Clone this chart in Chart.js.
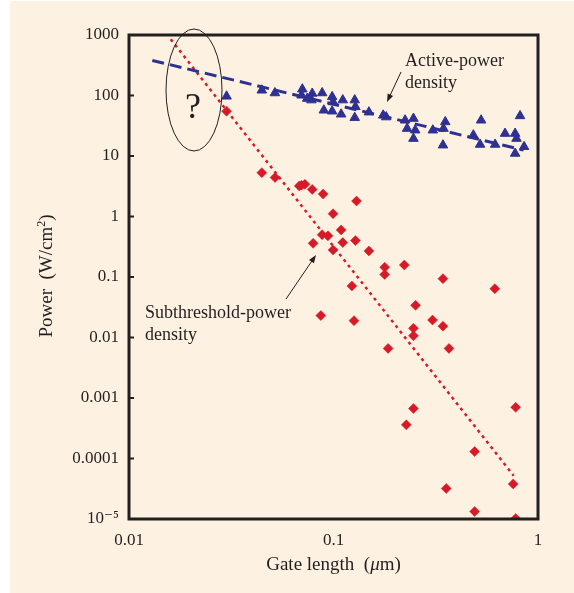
<!DOCTYPE html>
<html>
<head>
<meta charset="utf-8">
<script src="https://cdn.jsdelivr.net/npm/chart.js@4.4.1/dist/chart.umd.min.js"></script>
<style>
  html, body { margin:0; padding:0; background:#ffffff; }
  canvas { display:block; }
</style>
</head>
<body>
<canvas id="powerChart" width="574" height="593"></canvas>
<script>
// gate length (um) vs power density (W/cm^2)
const activeLength = [0.030, 0.0446, 0.0517, 0.0704, 0.0698, 0.0787, 0.078, 0.088, 0.0744, 0.0985,
  0.0995, 0.0897, 0.0985, 0.109, 0.111, 0.127, 0.128, 0.127, 0.149, 0.181,
  0.175, 0.224, 0.229, 0.246, 0.251, 0.246, 0.306, 0.352, 0.345, 0.343,
  0.527, 0.483, 0.521, 0.617, 0.69, 0.773, 0.785, 0.817, 0.773, 0.855];
const activePower = [97, 122, 110, 127, 101, 108, 84, 110, 89, 95,
  78, 57, 55, 49, 84, 84, 65, 43, 53, 44,
  47, 39, 28.4, 41.6, 26.7, 19.4, 26.7, 36.6, 28.4, 15.1,
  39, 22.1, 15.5, 15.5, 23.5, 23.5, 19.4, 46, 11, 14.2];

const subLength = [0.030, 0.0446, 0.0518, 0.0698, 0.0725, 0.0787, 0.068, 0.089, 0.1296, 0.0995,
  0.109, 0.088, 0.094, 0.0795, 0.111, 0.128, 0.0995, 0.149, 0.178, 0.178,
  0.222, 0.343, 0.615, 0.123, 0.252, 0.0867, 0.126, 0.305, 0.343, 0.246,
  0.246, 0.185, 0.367, 0.246, 0.778, 0.227, 0.49, 0.356, 0.756, 0.49, 0.778];
const subPower = [55, 5.3, 4.4, 3.3, 3.4, 2.8, 3.2, 2.35, 1.8, 1.11,
  0.6, 0.5, 0.48, 0.36, 0.37, 0.4, 0.28, 0.27, 0.145, 0.11,
  0.158, 0.094, 0.064, 0.071, 0.034, 0.023, 0.019, 0.0194, 0.0154, 0.0142,
  0.0107, 0.0066, 0.0066, 0.00067, 0.0007, 0.00036, 0.00013, 3.2e-5, 3.8e-5, 1.33e-5, 1.02e-5];

// trend lines (end points)
const activeFitLength = [0.013, 0.85];
const activeFitPower = [380, 12.5];
const subFitLength = [0.016, 0.76];
const subFitPower = [850, 5.2e-5];

const xTicks = [0.01, 0.1, 1];
const xTickLabels = ['0.01', '0.1', '1'];
const yTicks = [1e-5, 1e-4, 1e-3, 0.01, 0.1, 1, 10, 100, 1000];
const yTickLabels = ['10\u207B\u2075', '0.0001', '0.001', '0.01', '0.1', '1', '10', '100', '1000'];

const BLUE = '#2e3192';
const RED = '#d71a28';
const INK = '#231f20';
const SERIF = '"Liberation Serif", "DejaVu Serif", serif';

function pts(xs, ys){ return xs.map((x, i) => ({x: x, y: ys[i]})); }

// page background + beige panel
const panelBg = {
  id: 'panelBg',
  beforeDraw(chart){
    const c = chart.ctx;
    c.save();
    c.fillStyle = '#ffffff';
    c.fillRect(0, 0, chart.width, chart.height);
    c.fillStyle = '#fdf2e2';
    c.fillRect(10, 1, chart.width - 10, chart.height - 1);
    c.restore();
  }
};

function arrow(c, x1, y1, x2, y2){
  const a = Math.atan2(y2 - y1, x2 - x1), L = 8, W = 3;
  c.beginPath(); c.moveTo(x1, y1);
  c.lineTo(x2 - Math.cos(a) * L * 0.7, y2 - Math.sin(a) * L * 0.7); c.stroke();
  c.beginPath();
  c.moveTo(x2, y2);
  c.lineTo(x2 - Math.cos(a) * L - Math.sin(a) * W, y2 - Math.sin(a) * L + Math.cos(a) * W);
  c.lineTo(x2 - Math.cos(a) * L + Math.sin(a) * W, y2 - Math.sin(a) * L - Math.cos(a) * W);
  c.closePath(); c.fill();
}

// frame, inward ticks, axis titles and callouts
const decorations = {
  id: 'decorations',
  afterDraw(chart){
    const c = chart.ctx, a = chart.chartArea, ys = chart.scales.y;
    c.save();
    c.strokeStyle = INK; c.fillStyle = INK;

    c.lineWidth = 2;
    yTicks.forEach(v => {
      const py = ys.getPixelForValue(v);
      c.beginPath(); c.moveTo(a.left, py); c.lineTo(a.left + 5, py); c.stroke();
    });
    c.lineWidth = 3;
    c.strokeRect(a.left, a.top, a.right - a.left, a.bottom - a.top);

    // x title with italic mu
    c.textBaseline = 'alphabetic';
    const p1 = 'Gate length  (', p2 = '\u03BC', p3 = 'm)';
    c.font = '19px ' + SERIF; const w1 = c.measureText(p1).width, w3 = c.measureText(p3).width;
    c.font = 'italic 19px ' + SERIF; const w2 = c.measureText(p2).width;
    let x = (a.left + a.right) / 2 - (w1 + w2 + w3) / 2;
    c.textAlign = 'left';
    c.font = '19px ' + SERIF; c.fillText(p1, x, 570); x += w1;
    c.font = 'italic 19px ' + SERIF; c.fillText(p2, x, 570); x += w2;
    c.font = '19px ' + SERIF; c.fillText(p3, x, 570);

    // y title, rotated, with superscript 2
    c.save();
    c.translate(52, 276);
    c.rotate(-Math.PI / 2);
    const q1 = 'Power  (W/cm', q2 = '2', q3 = ')';
    c.font = '19px ' + SERIF; const v1 = c.measureText(q1).width, v3 = c.measureText(q3).width;
    c.font = '12px ' + SERIF; const v2 = c.measureText(q2).width;
    let t = -(v1 + v2 + v3) / 2;
    c.font = '19px ' + SERIF; c.fillText(q1, t, 0); t += v1;
    c.font = '12px ' + SERIF; c.fillText(q2, t, -7); t += v2;
    c.font = '19px ' + SERIF; c.fillText(q3, t, 0);
    c.restore();

    // "?" ellipse
    c.lineWidth = 1;
    c.beginPath(); c.ellipse(194, 90, 28, 61, 0, 0, Math.PI * 2); c.stroke();
    c.font = '36px ' + SERIF; c.textAlign = 'center';
    c.fillText('?', 193, 118);

    // callouts
    c.textAlign = 'left';
    c.font = '18px ' + SERIF;
    c.fillText('Active-power', 405, 66);
    c.fillText('density', 405, 88);
    c.fillText('Subthreshold-power', 145, 318);
    c.fillText('density', 145, 340);
    c.lineWidth = 1;
    arrow(c, 401, 72, 387, 102);
    arrow(c, 286, 299, 316, 255);
    c.restore();
  }
};

new Chart(document.getElementById('powerChart').getContext('2d'), {
  type: 'scatter',
  data: {
    datasets: [
      { label: 'Active', data: pts(activeLength, activePower), pointStyle: 'triangle',
        pointRadius: 5.5, pointBorderWidth: 1, backgroundColor: BLUE, borderColor: BLUE },
      { label: 'Subthreshold', data: pts(subLength, subPower), pointStyle: 'rectRot',
        pointRadius: 5, pointBorderWidth: 0.5, backgroundColor: RED, borderColor: RED },
      { type: 'line', label: 'Active fit', data: pts(activeFitLength, activeFitPower),
        borderColor: BLUE, borderWidth: 3, borderDash: [12, 6], pointRadius: 0, fill: false },
      { type: 'line', label: 'Subthreshold fit', data: pts(subFitLength, subFitPower),
        borderColor: RED, borderWidth: 2.5, borderDash: [3, 4], pointRadius: 0, fill: false }
    ]
  },
  options: {
    responsive: false,
    animation: false,
    devicePixelRatio: 1,
    layout: { padding: { left: 0, top: 35, right: 36, bottom: 0 } },
    plugins: { legend: { display: false }, tooltip: { enabled: false } },
    scales: {
      x: {
        type: 'logarithmic', min: 0.01, max: 1,
        afterBuildTicks: s => { s.ticks = xTicks.map(v => ({ value: v })); },
        afterFit: s => { s.height = 74; },
        grid: { display: false, drawTicks: false }, border: { display: false },
        ticks: { autoSkip: false, maxRotation: 0, padding: 11, color: INK,
          font: { family: SERIF, size: 17 }, callback: (v, i) => xTickLabels[i] }
      },
      y: {
        type: 'logarithmic', min: 1e-5, max: 1000,
        afterBuildTicks: s => { s.ticks = yTicks.map(v => ({ value: v })); },
        afterFit: s => { s.width = 129; },
        grid: { display: false, drawTicks: false }, border: { display: false },
        ticks: { autoSkip: false, padding: 10, color: INK,
          font: { family: SERIF, size: 17 }, callback: (v, i) => yTickLabels[i] }
      }
    }
  },
  plugins: [panelBg, decorations]
});
</script>
</body>
</html>
